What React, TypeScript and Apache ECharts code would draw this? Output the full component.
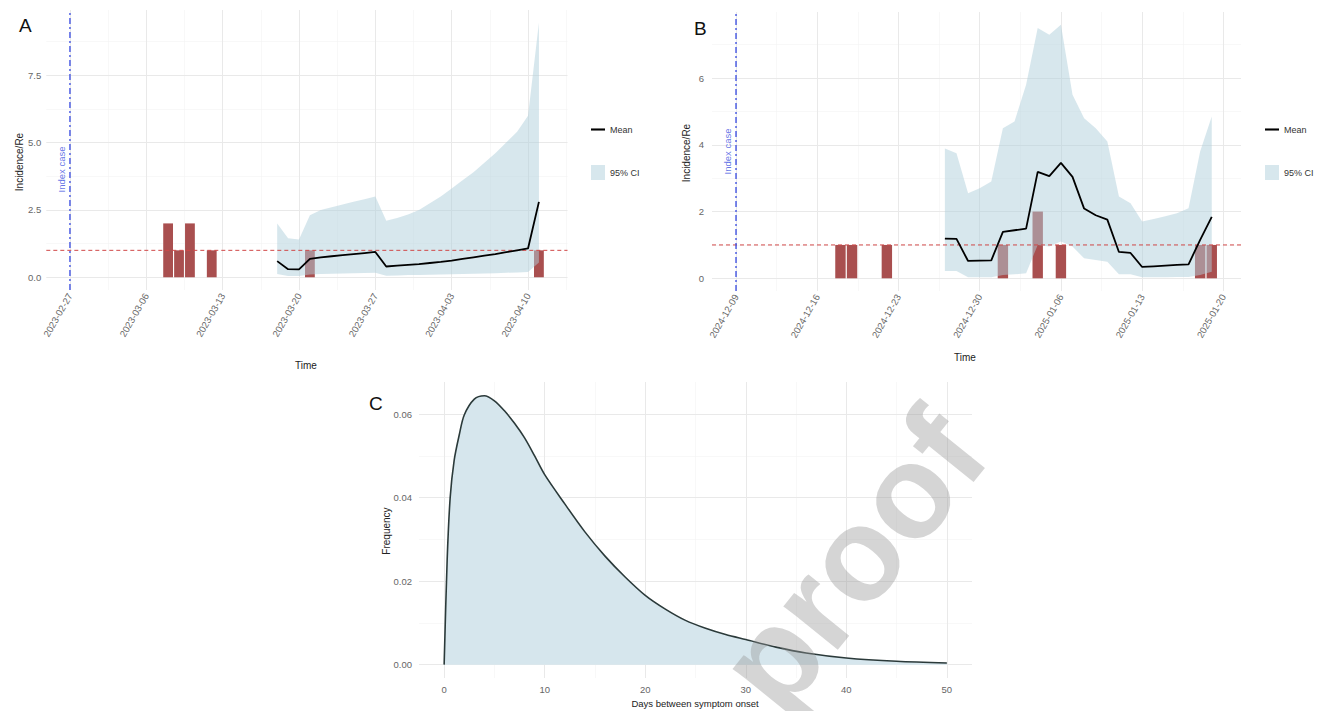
import React, { useEffect, useRef } from "react";
import * as echarts from "echarts";

// ---------------- Panel A ----------------
const INDEX_DATE_A = "2023-02-27";
const TICK_DATES_A = ["2023-02-27", "2023-03-06", "2023-03-13", "2023-03-20", "2023-03-27", "2023-04-03", "2023-04-10"];
const INCIDENCE_DATES_A = ["2023-03-08", "2023-03-09", "2023-03-10", "2023-03-12", "2023-03-21", "2023-04-11"];
const INCIDENCE_A = [2, 1, 2, 1, 1, 1];
const RE_DATES_A = [
  "2023-03-18", "2023-03-19", "2023-03-20", "2023-03-21", "2023-03-22", "2023-03-23", "2023-03-24",
  "2023-03-25", "2023-03-26", "2023-03-27", "2023-03-28", "2023-03-29", "2023-03-30", "2023-03-31",
  "2023-04-01", "2023-04-02", "2023-04-03", "2023-04-04", "2023-04-05", "2023-04-06", "2023-04-07",
  "2023-04-08", "2023-04-09", "2023-04-10", "2023-04-11",
];
const RE_MEAN_A = [0.6, 0.3, 0.29, 0.68, 0.74, 0.78, 0.82, 0.86, 0.9, 0.94, 0.4, 0.43, 0.46, 0.49, 0.53, 0.57, 0.62, 0.68, 0.74, 0.8, 0.86, 0.93, 1.0, 1.07, 2.8];
const RE_LOWER_A = [0.12, 0.05, 0.05, 0.1, 0.12, 0.13, 0.14, 0.15, 0.16, 0.17, 0.06, 0.07, 0.08, 0.08, 0.09, 0.1, 0.11, 0.12, 0.13, 0.14, 0.15, 0.17, 0.18, 0.2, 0.55];
const RE_UPPER_A = [2.0, 1.45, 1.4, 2.3, 2.5, 2.6, 2.7, 2.8, 2.9, 3.0, 2.1, 2.2, 2.33, 2.5, 2.75, 3.0, 3.3, 3.6, 3.9, 4.25, 4.6, 5.0, 5.4, 6.0, 9.45];
const Y_TICKS_A = [0, 2.5, 5, 7.5];

// ---------------- Panel B ----------------
const INDEX_DATE_B = "2024-12-09";
const TICK_DATES_B = ["2024-12-09", "2024-12-16", "2024-12-23", "2024-12-30", "2025-01-06", "2025-01-13", "2025-01-20"];
const INCIDENCE_DATES_B = ["2024-12-18", "2024-12-19", "2024-12-22", "2025-01-01", "2025-01-04", "2025-01-06", "2025-01-18", "2025-01-19"];
const INCIDENCE_B = [1, 1, 1, 1, 2, 1, 1, 1];
const RE_DATES_B = [
  "2024-12-27", "2024-12-28", "2024-12-29", "2024-12-30", "2024-12-31", "2025-01-01", "2025-01-02",
  "2025-01-03", "2025-01-04", "2025-01-05", "2025-01-06", "2025-01-07", "2025-01-08", "2025-01-09",
  "2025-01-10", "2025-01-11", "2025-01-12", "2025-01-13", "2025-01-14", "2025-01-15", "2025-01-16",
  "2025-01-17", "2025-01-18", "2025-01-19",
];
const RE_MEAN_B = [1.19, 1.18, 0.52, 0.53, 0.54, 1.39, 1.44, 1.49, 3.19, 3.06, 3.46, 3.04, 2.09, 1.89, 1.76, 0.79, 0.76, 0.34, 0.36, 0.38, 0.4, 0.42, 1.15, 1.84];
const RE_LOWER_B = [0.22, 0.22, 0.03, 0.03, 0.03, 0.1, 0.12, 0.15, 1.0, 0.95, 1.1, 0.95, 0.6, 0.55, 0.5, 0.12, 0.12, 0.03, 0.03, 0.03, 0.04, 0.04, 0.1, 0.2];
const RE_UPPER_B = [3.89, 3.75, 2.55, 2.7, 2.9, 4.5, 4.7, 5.8, 7.5, 7.3, 7.6, 5.5, 4.8, 4.5, 4.1, 2.45, 2.25, 1.7, 1.78, 1.86, 1.95, 2.1, 3.8, 4.85];
const Y_TICKS_B = [0, 2, 4, 6];

// ---------------- Panel C ----------------
const SI_DAYS = [0, 0.3, 0.6, 1, 1.5, 2, 3, 4, 5, 6, 7, 8, 9, 10, 12, 14, 16, 18, 20, 22, 24, 26, 28, 30, 33, 36, 40, 45, 50];
const SI_FREQ = [0, 0.025, 0.04, 0.049, 0.055, 0.0598, 0.0636, 0.0644, 0.0632, 0.0608, 0.0578, 0.0543, 0.05, 0.0455, 0.0385, 0.0318, 0.026, 0.021, 0.0166, 0.0133, 0.0106, 0.0087, 0.0072, 0.006, 0.0042, 0.0028, 0.0016, 0.0008, 0.0004];
const X_TICKS_C = [0, 10, 20, 30, 40, 50];
const Y_TICKS_C = [0, 0.02, 0.04, 0.06];

const THRESHOLD = 1;
const INDEX_LABEL_Y_A = 4.0;
const INDEX_LABEL_Y_B = 3.8;

// ---------------- helpers ----------------
const DAY = 86400000;
const FONT = "'Liberation Sans', Arial, Helvetica, sans-serif";
const toTs = (s: string) => {
  const [y, m, d] = s.split("-").map(Number);
  return new Date(y, m - 1, d).getTime();
};
const pad = (n: number) => String(n).padStart(2, "0");
const fmtDate = (v: number) => {
  const d = new Date(v + DAY / 2);
  return `${d.getFullYear()}-${pad(d.getMonth() + 1)}-${pad(d.getDate())}`;
};
const pairs = (dates: string[], vals: number[]) => dates.map((d, i) => [toTs(d), vals[i]]);
const minorsOf = (majors: number[], lo: number, hi: number) => {
  const step = majors[1] - majors[0];
  const out: number[] = [];
  [majors[0] - step, ...majors].forEach((v) => {
    const m = v + step / 2;
    if (m > lo && m < hi) out.push(m);
  });
  return out;
};

const MAJOR = { color: "#e9e9e9", width: 1, type: "solid" };
const MINOR = { color: "#f4f4f4", width: 0.6, type: "solid" };
const CI_COLOR = "rgba(176,208,220,0.5)";
const CI_LEGEND = "#d7e7ed";
const BAR_COLOR = "#a94f4f";
const AXIS_TEXT = { fontSize: 9.5, color: "#666", fontFamily: FONT };

function gridSeries(idx: number, xMajor: number[], xMinor: number[], yMajor: number[], yMinor: number[]) {
  return {
    type: "line",
    name: "grid" + idx,
    xAxisIndex: idx,
    yAxisIndex: idx,
    data: [],
    silent: true,
    z: 0,
    markLine: {
      z: 0,
      silent: true,
      symbol: ["none", "none"],
      animation: false,
      label: { show: false },
      emphasis: { disabled: true },
      data: [
        ...xMinor.map((v) => ({ xAxis: v, lineStyle: MINOR })),
        ...yMinor.map((v) => ({ yAxis: v, lineStyle: MINOR })),
        ...xMajor.map((v) => ({ xAxis: v, lineStyle: MAJOR })),
        ...yMajor.map((v) => ({ yAxis: v, lineStyle: MAJOR })),
      ],
    },
  };
}

function refLine(idx: number, name: string, pts: number[][], color: string, width: number, dash: number[], z: number) {
  return {
    type: "line",
    name,
    xAxisIndex: idx,
    yAxisIndex: idx,
    data: pts,
    symbol: "none",
    silent: true,
    z,
    color,
    lineStyle: { color, width, type: dash },
    emphasis: { disabled: true },
  };
}

function panelSeries(
  idx: number,
  key: string,
  indexDate: string,
  barDates: string[],
  barVals: number[],
  reDates: string[],
  mean: number[],
  lower: number[],
  upper: number[],
  barWidth: number,
  labelY: number,
  xRange: number[],
  yRange: number[]
) {
  const t0 = toTs(indexDate);
  const band = reDates.map((d, i) => [toTs(d), lower[i], upper[i]]);
  return [
    {
      type: "bar",
      name: "Incidence" + key,
      xAxisIndex: idx,
      yAxisIndex: idx,
      data: pairs(barDates, barVals),
      barWidth,
      itemStyle: { color: BAR_COLOR },
      z: 2,
      silent: true,
    },
    {
      type: "custom",
      name: "95% CI",
      xAxisIndex: idx,
      yAxisIndex: idx,
      data: band,
      encode: { x: 0, y: [1, 2] },
      z: 3,
      silent: true,
      clip: true,
      itemStyle: { color: CI_LEGEND },
      renderItem: (params: any, api: any) => {
        if (params.dataIndex !== 0) return null;
        const top = band.map((p) => api.coord([p[0], p[2]]));
        const bot = band.map((p) => api.coord([p[0], p[1]])).reverse();
        return {
          type: "polygon",
          shape: { points: [...top, ...bot] },
          style: { fill: CI_COLOR, stroke: "none" },
        };
      },
    },
    refLine(idx, "thr" + key, [[xRange[0], THRESHOLD], [xRange[1], THRESHOLD]], "#d04848", 1, [4, 3], 4),
    refLine(idx, "vline" + key, [[t0, yRange[0]], [t0, yRange[1]]], "#3347e0", 1.3, [6, 3, 2, 3], 4),
    {
      type: "line",
      name: "Mean",
      xAxisIndex: idx,
      yAxisIndex: idx,
      data: pairs(reDates, mean),
      symbol: "none",
      color: "#000",
      lineStyle: { color: "#000", width: 1.8 },
      z: 5,
      silent: true,
    },
    {
      type: "scatter",
      name: "idx" + key,
      xAxisIndex: idx,
      yAxisIndex: idx,
      data: [[t0, labelY]],
      symbolSize: 1,
      itemStyle: { color: "rgba(0,0,0,0)" },
      z: 6,
      silent: true,
      label: {
        show: true,
        formatter: "Index case",
        position: "left",
        distance: 3,
        rotate: 90,
        align: "center",
        verticalAlign: "bottom",
        fontSize: 9.5,
        color: "#3a4fe0",
        fontFamily: FONT,
      },
    },
  ];
}

function buildOption() {
  const tA = toTs(INDEX_DATE_A);
  const tB = toTs(INDEX_DATE_B);
  const aX = [tA - 2.17 * DAY, tA + 45.62 * DAY];
  const bX = [tB - 2.07 * DAY, tB + 43.52 * DAY];
  const aY = [-0.4725, 9.9225];
  const bY = [-0.38, 7.98];
  const cX = [-2.5, 52.5];
  const cY = [-0.0032, 0.0677];

  const ticksA = TICK_DATES_A.map(toTs);
  const ticksB = TICK_DATES_B.map(toTs);

  const dateAxis = (idx: number, range: number[], ticks: number[]) => ({
    type: "value",
    gridIndex: idx,
    min: range[0],
    max: range[1],
    axisLine: { show: false },
    axisTick: { show: false },
    splitLine: { show: false },
    axisLabel: {
      ...AXIS_TEXT,
      customValues: ticks,
      formatter: (v: number) => fmtDate(v),
      rotate: 60,
      margin: 4,
      hideOverlap: false,
    },
  });
  const valAxis = (idx: number, range: number[], ticks: number[], dec: number, margin: number) => ({
    type: "value",
    gridIndex: idx,
    min: range[0],
    max: range[1],
    axisLine: { show: false },
    axisTick: { show: false },
    splitLine: { show: false },
    axisLabel: {
      ...AXIS_TEXT,
      customValues: ticks,
      formatter: (v: number) => v.toFixed(dec),
      margin,
    },
  });

  const title = (text: string, x: number, y: number, rot = 0, size = 10) => ({
    type: "text",
    x,
    y,
    rotation: rot,
    silent: true,
    style: { text, fontSize: size, fontFamily: FONT, fill: "#222", align: "center", verticalAlign: "middle" },
  });
  const tag = (text: string, x: number, y: number) => ({
    type: "text",
    x,
    y,
    silent: true,
    style: { text, fontSize: 19, fontFamily: FONT, fill: "#111", align: "left", verticalAlign: "middle" },
  });

  const legend = (left: number) => ({
    left,
    top: 120,
    orient: "vertical",
    itemGap: 31,
    itemWidth: 14,
    itemHeight: 15,
    selectedMode: false,
    textStyle: { fontSize: 9, color: "#333", fontFamily: FONT },
    data: [
      { name: "Mean", icon: "path://M0,0L20,0L20,3L0,3Z", itemStyle: { color: "#000", borderWidth: 0 } },
      { name: "95% CI", icon: "rect", itemStyle: { color: CI_LEGEND, borderWidth: 0 } },
    ],
  });

  return {
    animation: false,
    backgroundColor: "#fff",
    textStyle: { fontFamily: FONT },
    grid: [
      { left: 46.3, top: 10, width: 521.2, height: 280 },
      { left: 712, top: 12, width: 529, height: 279 },
      { left: 419, top: 382, width: 553, height: 296 },
    ],
    xAxis: [
      dateAxis(0, aX, ticksA),
      dateAxis(1, bX, ticksB),
      {
        type: "value",
        gridIndex: 2,
        min: cX[0],
        max: cX[1],
        axisLine: { show: false },
        axisTick: { show: false },
        splitLine: { show: false },
        axisLabel: { ...AXIS_TEXT, customValues: X_TICKS_C, formatter: (v: number) => String(v), margin: 6 },
      },
    ],
    yAxis: [valAxis(0, aY, Y_TICKS_A, 1, 5), valAxis(1, bY, Y_TICKS_B, 0, 8), valAxis(2, cY, Y_TICKS_C, 2, 7)],
    legend: [legend(586), legend(1260)],
    series: [
      gridSeries(0, ticksA, minorsOf(ticksA, aX[0], aX[1]), Y_TICKS_A, minorsOf(Y_TICKS_A, aY[0], aY[1])),
      gridSeries(1, ticksB, minorsOf(ticksB, bX[0], bX[1]), Y_TICKS_B, minorsOf(Y_TICKS_B, bY[0], bY[1])),
      gridSeries(2, X_TICKS_C, minorsOf(X_TICKS_C, cX[0], cX[1]), Y_TICKS_C, minorsOf(Y_TICKS_C, cY[0], cY[1])),
      ...panelSeries(0, "A", INDEX_DATE_A, INCIDENCE_DATES_A, INCIDENCE_A, RE_DATES_A, RE_MEAN_A, RE_LOWER_A, RE_UPPER_A, 9.8, INDEX_LABEL_Y_A, aX, aY),
      ...panelSeries(1, "B", INDEX_DATE_B, INCIDENCE_DATES_B, INCIDENCE_B, RE_DATES_B, RE_MEAN_B, RE_LOWER_B, RE_UPPER_B, 10.4, INDEX_LABEL_Y_B, bX, bY),
      {
        type: "line",
        name: "Serial interval",
        xAxisIndex: 2,
        yAxisIndex: 2,
        data: SI_DAYS.map((d, i) => [d, SI_FREQ[i]]),
        symbol: "none",
        smooth: 0.3,
        lineStyle: { color: "#2b3a3a", width: 1.6 },
        areaStyle: { color: "#d6e6ed", opacity: 1 },
        z: 3,
        silent: true,
      },
    ],
    graphic: [
      tag("A", 19, 25),
      tag("B", 694, 28),
      tag("C", 369, 403),
      title("Incidence/Re", 19, 162, Math.PI / 2),
      title("Incidence/Re", 686, 153, Math.PI / 2),
      title("Time", 306, 365),
      title("Time", 965, 357),
      title("Frequency", 386, 531, Math.PI / 2),
      title("Days between symptom onset", 695, 703, 0, 9.5),
      {
        type: "text",
        x: 852,
        y: 560,
        rotation: (51 * Math.PI) / 180,
        silent: true,
        z: 100,
        style: {
          text: "proof",
          fontSize: 132,
          fontWeight: "bold",
          fontFamily: FONT,
          fill: "rgba(150,150,150,0.4)",
          align: "center",
          verticalAlign: "middle",
        },
      },
    ],
  };
}

export default function App() {
  const ref = useRef<HTMLDivElement>(null);
  useEffect(() => {
    if (!ref.current) return;
    const chart = echarts.init(ref.current, null, { renderer: "svg" });
    chart.setOption(buildOption() as any);
    return () => chart.dispose();
  }, []);
  return (
    <div
      ref={ref}
      style={{ position: "fixed", left: 0, top: 0, width: 1338, height: 711, background: "#fff" }}
    />
  );
}
